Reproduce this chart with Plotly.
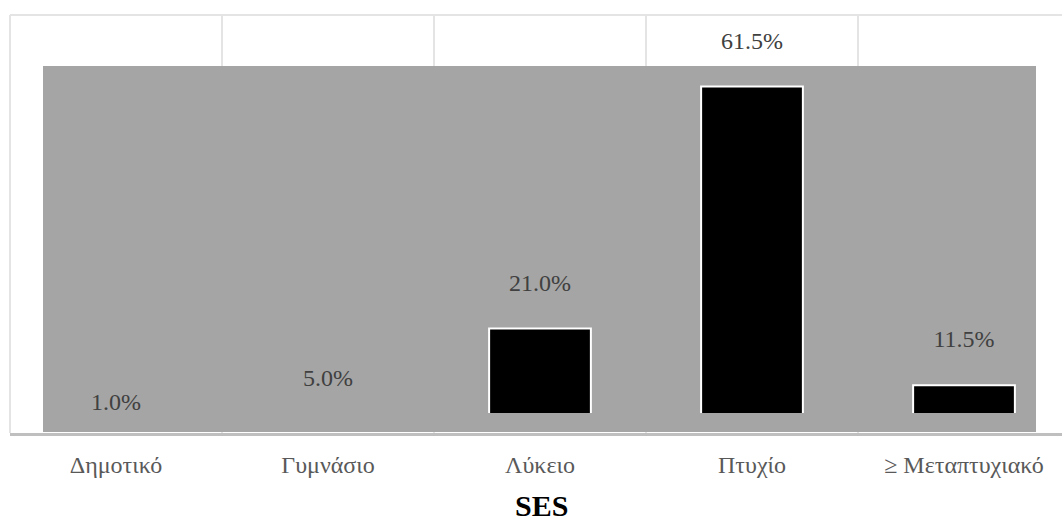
import plotly.graph_objects as go

# ---- data ----
categories = ["Δημοτικό", "Γυμνάσιο", "Λύκειο", "Πτυχίο", "≥ Μεταπτυχιακό"]
values = [1.0, 5.0, 21.0, 61.5, 11.5]
value_labels = [f"{v:.1f}%" for v in values]
axis_title = "SES"

# ---- geometry (pixels) ----
W, H = 1062, 524
ML, MR, MT, MB = 10, 0, 15, 91
plot_w = W - ML - MR
plot_h = H - MT - MB
px_per_cat = 212.0
px_per_unit = 5.975
label_zero_px = 410.0
bar_zero_px = 454.0
bar_clip_px = 413.0
bottom_px = H - MB
top_px = MT


def py(p):
    return (bottom_px - p) / plot_h


def px(p):
    return (p - ML) / plot_w


FONT = "Liberation Serif"

fig = go.Figure()
fig.add_trace(go.Bar(
    x=categories, y=values, xaxis="x", yaxis="y",
    width=0.48,
    marker=dict(color="#000000", line=dict(color="#ffffff", width=2)),
    hoverinfo="skip", showlegend=False,
))
fig.add_trace(go.Scatter(
    x=categories, y=values, xaxis="x", yaxis="y2",
    mode="text", text=value_labels, textposition="middle center",
    textfont=dict(family=FONT, size=24, color="#404040"),
    cliponaxis=False, hoverinfo="skip", showlegend=False,
))

shapes = []
# frame lines
shapes.append(dict(type="line", xref="paper", yref="paper", x0=0, x1=1, y0=1, y1=1,
                   line=dict(color="#e4e4e4", width=2), layer="below"))
shapes.append(dict(type="line", xref="paper", yref="paper", x0=0, x1=0, y0=0, y1=1,
                   line=dict(color="#e4e4e4", width=2), layer="below"))
# category boundary gridlines
for i in range(len(categories) - 1):
    shapes.append(dict(type="line", xref="x", yref="paper", x0=i + 0.5, x1=i + 0.5, y0=0, y1=1,
                       line=dict(color="#e4e4e4", width=2), layer="below"))
# grey panel
shapes.append(dict(type="rect", xref="paper", yref="paper",
                   x0=px(43), x1=px(1036), y0=py(432), y1=py(66),
                   fillcolor="#a5a5a5", line=dict(width=0), layer="below"))

fig.update_layout(
    width=W, height=H,
    margin=dict(l=ML, r=MR, t=MT, b=MB, pad=0),
    paper_bgcolor="#ffffff", plot_bgcolor="rgba(0,0,0,0)",
    showlegend=False,
    shapes=shapes,
    xaxis=dict(
        type="category", categoryorder="array", categoryarray=categories,
        range=[-0.5, -0.5 + plot_w / px_per_cat],
        anchor="y2", showgrid=False, zeroline=False,
        showline=True, linecolor="#bfbfbf", linewidth=3,
        ticks="", ticklabelstandoff=8,
        tickfont=dict(family=FONT, size=24, color="#595959"),
    ),
    yaxis=dict(
        domain=[py(bar_clip_px), 1], anchor="x", visible=False,
        range=[(bar_zero_px - bar_clip_px) / px_per_unit, (bar_zero_px - top_px) / px_per_unit],
        showgrid=False, zeroline=False,
    ),
    yaxis2=dict(
        domain=[0, 1], anchor="x", visible=False,
        range=[(label_zero_px - bottom_px) / px_per_unit, (label_zero_px - top_px) / px_per_unit],
        showgrid=False, zeroline=False,
    ),
    annotations=[dict(
        text=f"<b>{axis_title}</b>", xref="paper", yref="paper",
        x=px(541), y=py(524), xanchor="center", yanchor="bottom", showarrow=False,
        font=dict(family=FONT, size=30, color="#000000"),
    )],
)

fig.write_html("out.html")
